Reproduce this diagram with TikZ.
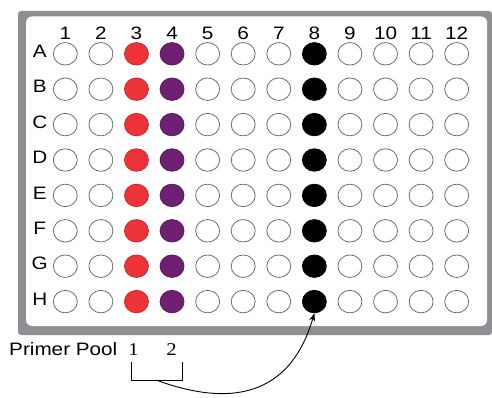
\documentclass[tikz,border=0pt]{standalone}
\usepackage{fontspec}
\setmainfont{Liberation Sans}[FakeStretch=1.15]
\newfontfamily\serifdigits{Liberation Serif}[FakeStretch=1.15]
\usetikzlibrary{shapes.geometric,arrows.meta}
\definecolor{framegray}{HTML}{8E8F92}
\definecolor{wellred}{HTML}{EE3338}
\definecolor{wellpurple}{HTML}{6F2072}
\tikzset{every picture/.style={line width=0.75pt}}
\tikzset{
  well/.style={ellipse, inner sep=0pt, minimum width=24pt, minimum height=22.5pt, line width=0.75pt},
  emptywell/.style={well, draw=gray!80!black, fill=white},
  redwell/.style={well, draw=wellred!80!black, fill=wellred},
  purplewell/.style={well, draw=wellpurple!80!black, fill=wellpurple},
  blackwell/.style={well, draw=black, fill=black}
}

\begin{document}
\begin{tikzpicture}[x=1pt, y=-1pt, line join=round, font=\fontsize{18}{21}\selectfont]
	\useasboundingbox (0,0) rectangle (492,398);
	\fill[white] (0,0) rectangle (492,398);
	% plate
	\fill[framegray, rounded corners=3pt] (18,11) rectangle (492,335);
	\fill[white, rounded corners=6pt] (26,16.5) rectangle (487,326);
	\foreach \c in {1,...,12} \node (col\c) at ({65.3+35.58*(\c-1)},33.3) {\c};
	\foreach \r [count=\i from 0] in {A,...,H}{
		\node (row\r) at (39.8,{51.3+35.4*\i}) {\r};
		\foreach \c/\s in {1/emptywell,2/emptywell,3/redwell,4/purplewell,5/emptywell,6/emptywell,7/emptywell,8/blackwell,9/emptywell,10/emptywell,11/emptywell,12/emptywell}
			\node[\s] (\r\c) at ({65.3+35.58*(\c-1)},{53.8+35.4*\i}) {};
	}
	% primer pools
	\node[anchor=west] (pool) at (5.5,349.5) {Primer Pool};
	\node[font=\fontsize{18}{21}\serifdigits] (pool1) at (133.5,349.5) {1};
	\node[font=\fontsize{18}{21}\serifdigits] (pool2) at (171.5,349.5) {2};
	\path (131.7,362) coordinate (bl)
		(182.3,362) coordinate (br)
		(156,380) coordinate (bm);
	\draw[line width=0.9pt] (bl) -- ++(0,18) -| (br);
	\draw[line width=0.9pt, -{Stealth[length=8pt, width=6pt]}] (bm) .. controls (205,398) and (285,414) .. (H8.south);
\end{tikzpicture}
\end{document}
